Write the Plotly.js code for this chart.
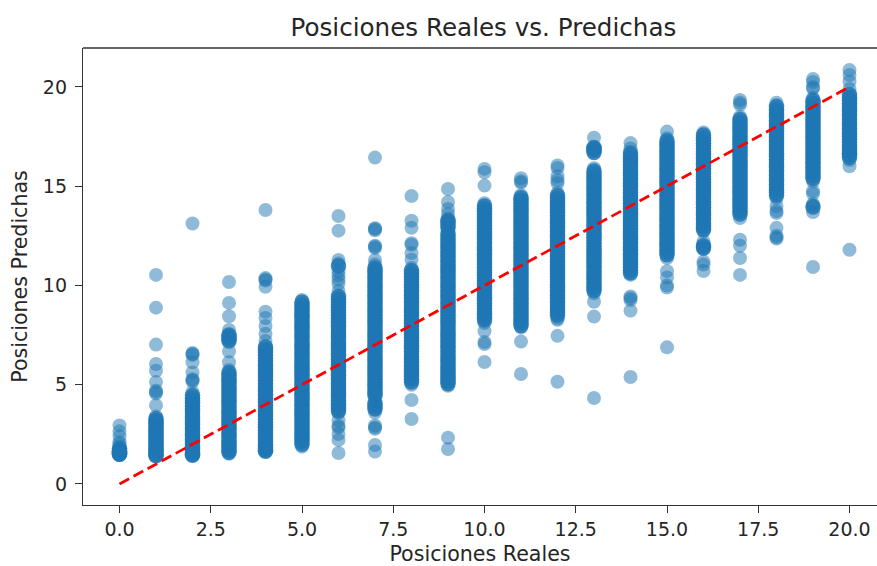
<!DOCTYPE html>
<html>
<head>
<meta charset="utf-8">
<script src="https://cdn.plot.ly/plotly-3.0.1.min.js"></script>
<style>html,body{margin:0;padding:0;background:#fff;overflow:hidden}</style>
</head>
<body>
<div id="chart" style="width:877px;height:566px"></div>
<script>
const chartTitle = "Posiciones Reales vs. Predichas";
const xAxisLabel = "Posiciones Reales";
const yAxisLabel = "Posiciones Predichas";
const xTickValues = [0, 2.5, 5, 7.5, 10, 12.5, 15, 17.5, 20];
const xTickLabels = ["0.0", "2.5", "5.0", "7.5", "10.0", "12.5", "15.0", "17.5", "20.0"];
const yTickValues = [0, 5, 10, 15, 20];
const lineX = [0, 20];
const lineY = [0, 20];

const pos0 = [2.95,2.65,2.4,2.1,2.0,1.8,1.7,1.65,1.6,1.6,1.55,1.5,1.5];
const pos1 = [10.53,8.88,7.02,6.04,5.7,5.14,4.7,4.63,4.56,3.96,3.4,3.28,3.17,3.05,2.93,2.82,2.7,2.6,2.48,2.37,2.26,2.15,2.04,1.93,1.83,1.73,1.63,1.55,1.47,1.42];
const pos2 = [13.12,6.6,6.55,6.5,6.13,5.62,5.28,5.22,5.16,4.62,4.45,4.32,4.18,4.05,3.92,3.78,3.65,3.52,3.38,3.25,3.12,3.0,2.87,2.74,2.62,2.5,2.38,2.26,2.14,2.02,1.9,1.78,1.67,1.56,1.48,1.44];
const pos3 = [10.17,9.12,8.45,7.76,7.5,7.42,7.3,7.2,6.67,6.13,5.74,5.6,5.46,5.33,5.2,5.06,4.92,4.78,4.65,4.5,4.37,4.23,4.1,3.96,3.82,3.68,3.55,3.42,3.28,3.14,3.0,2.87,2.74,2.6,2.47,2.34,2.2,2.07,1.94,1.82,1.7,1.6,1.52];
const pos4 = [13.8,10.37,10.3,10.25,9.93,8.68,8.36,7.96,7.56,7.2,6.9,6.76,6.62,6.48,6.34,6.2,6.06,5.92,5.78,5.64,5.5,5.36,5.22,5.08,4.94,4.8,4.66,4.52,4.38,4.24,4.1,3.96,3.82,3.68,3.54,3.4,3.26,3.12,2.98,2.84,2.7,2.56,2.42,2.28,2.14,2.0,1.88,1.78,1.7,1.65];
const pos5 = [9.27,9.15,9.02,8.9,8.76,8.63,8.5,8.38,8.22,8.1,7.96,7.83,7.7,7.55,7.42,7.3,7.14,7.0,6.88,6.75,6.6,6.47,6.33,6.2,6.06,5.92,5.8,5.66,5.52,5.4,5.25,5.12,4.98,4.85,4.7,4.57,4.44,4.3,4.16,4.03,3.9,3.76,3.63,3.5,3.35,3.22,3.08,2.95,2.82,2.68,2.55,2.42,2.28,2.14,2.0,1.88];
const pos6 = [13.5,12.76,11.28,11.1,10.98,10.7,10.5,10.3,10.1,9.72,9.44,9.3,9.17,9.03,8.9,8.76,8.62,8.48,8.35,8.2,8.07,7.93,7.8,7.66,7.52,7.38,7.25,7.1,6.97,6.83,6.7,6.56,6.42,6.28,6.15,6.0,5.87,5.73,5.6,5.46,5.32,5.18,5.05,4.9,4.77,4.63,4.5,4.36,4.22,4.08,3.95,3.8,3.68,3.58,3.2,2.92,2.85,2.52,2.22,1.56];
const pos7 = [16.44,12.88,12.84,12.78,12.0,11.95,11.88,11.28,11.05,10.88,10.74,10.6,10.46,10.32,10.18,10.04,9.9,9.76,9.62,9.48,9.34,9.2,9.06,8.92,8.78,8.64,8.5,8.36,8.22,8.08,7.94,7.8,7.66,7.52,7.38,7.24,7.1,6.96,6.82,6.68,6.54,6.4,6.26,6.12,5.98,5.84,5.7,5.56,5.42,5.28,5.14,5.0,4.86,4.72,4.58,4.45,4.2,4.05,3.9,3.78,3.6,2.95,2.85,2.78,1.96,1.63];
const pos8 = [14.5,13.26,12.9,12.13,12.05,11.63,11.3,10.88,10.74,10.6,10.46,10.32,10.18,10.04,9.9,9.76,9.62,9.48,9.34,9.2,9.06,8.92,8.78,8.64,8.5,8.36,8.22,8.08,7.94,7.8,7.66,7.52,7.38,7.24,7.1,6.96,6.82,6.68,6.54,6.4,6.26,6.12,5.98,5.84,5.7,5.56,5.42,5.28,5.14,5.0,4.23,3.27];
const pos9 = [14.86,14.2,13.85,13.6,13.3,13.2,13.05,12.9,12.75,12.6,12.45,12.3,12.15,12.0,11.86,11.72,11.58,11.44,11.3,11.16,11.02,10.88,10.74,10.6,10.46,10.32,10.18,10.04,9.9,9.76,9.62,9.48,9.34,9.2,9.06,8.92,8.78,8.64,8.5,8.36,8.22,8.08,7.94,7.8,7.66,7.52,7.38,7.24,7.1,6.96,6.82,6.68,6.54,6.4,6.26,6.12,5.98,5.84,5.7,5.56,5.42,5.3,5.16,5.05,4.95,2.33,1.76];
const pos10 = [15.87,15.7,15.03,14.14,14.0,13.86,13.72,13.58,13.44,13.3,13.16,13.02,12.88,12.74,12.6,12.46,12.32,12.18,12.04,11.9,11.76,11.62,11.48,11.34,11.2,11.06,10.92,10.78,10.64,10.5,10.36,10.22,10.08,9.94,9.8,9.66,9.52,9.38,9.24,9.1,8.96,8.82,8.68,8.54,8.4,8.26,8.1,7.7,7.15,7.05,6.14];
const pos11 = [15.4,15.25,15.18,14.56,14.42,14.28,14.14,14.0,13.86,13.72,13.58,13.44,13.3,13.16,13.02,12.88,12.74,12.6,12.46,12.32,12.18,12.04,11.9,11.76,11.62,11.48,11.34,11.2,11.06,10.92,10.78,10.64,10.5,10.36,10.22,10.08,9.94,9.8,9.66,9.52,9.38,9.24,9.1,8.96,8.82,8.68,8.54,8.4,8.26,8.12,7.98,7.88,7.17,5.54];
const pos12 = [16.04,15.92,15.5,15.3,15.15,14.66,14.52,14.38,14.24,14.1,13.96,13.82,13.68,13.54,13.4,13.26,13.12,12.98,12.84,12.7,12.56,12.42,12.28,12.14,12.0,11.86,11.72,11.58,11.44,11.3,11.16,11.02,10.88,10.74,10.6,10.46,10.32,10.18,10.04,9.9,9.76,9.62,9.48,9.34,9.2,9.06,8.92,8.78,8.64,8.5,8.33,8.27,7.46,5.15];
const pos13 = [17.44,16.95,16.88,16.8,16.7,15.9,15.76,15.62,15.48,15.34,15.2,15.06,14.92,14.78,14.64,14.5,14.36,14.22,14.08,13.94,13.8,13.66,13.52,13.38,13.24,13.1,12.96,12.82,12.68,12.54,12.4,12.26,12.12,11.98,11.84,11.7,11.56,11.42,11.28,11.14,11.0,10.86,10.72,10.58,10.44,10.3,10.16,10.02,9.88,9.74,9.6,9.18,8.43,4.33];
const pos14 = [17.17,16.9,16.67,16.52,16.38,16.24,16.1,15.96,15.82,15.68,15.54,15.4,15.26,15.12,14.98,14.84,14.7,14.56,14.42,14.28,14.14,14.0,13.86,13.72,13.58,13.44,13.3,13.16,13.02,12.88,12.74,12.6,12.46,12.32,12.18,12.04,11.9,11.76,11.62,11.48,11.34,11.2,11.06,10.92,10.78,10.64,10.53,9.44,9.36,9.27,8.73,5.39];
const pos15 = [17.75,17.42,17.28,17.14,17.0,16.86,16.72,16.58,16.44,16.3,16.16,16.02,15.88,15.74,15.6,15.46,15.32,15.18,15.04,14.9,14.76,14.62,14.48,14.34,14.2,14.06,13.92,13.78,13.64,13.5,13.36,13.22,13.08,12.94,12.8,12.66,12.52,12.38,12.24,12.1,11.96,11.82,11.68,11.54,11.38,10.72,10.4,10.0,9.89,6.88];
const pos16 = [17.7,17.58,17.44,17.3,17.16,17.02,16.88,16.74,16.6,16.46,16.32,16.18,16.04,15.9,15.76,15.62,15.48,15.34,15.2,15.06,14.92,14.78,14.64,14.5,14.36,14.22,14.08,13.94,13.8,13.66,13.52,13.38,13.24,13.1,12.96,12.82,12.71,12.2,12.0,11.9,11.82,11.2,11.05,10.73];
const pos17 = [19.34,19.2,19.1,18.5,18.36,18.22,18.08,17.94,17.8,17.66,17.52,17.38,17.24,17.1,16.96,16.82,16.68,16.54,16.4,16.26,16.12,15.98,15.84,15.7,15.56,15.42,15.28,15.14,15.0,14.86,14.72,14.58,14.44,14.3,14.16,14.02,13.88,13.74,13.6,13.4,12.3,12.0,11.38,10.53];
const pos18 = [19.2,19.02,18.88,18.74,18.6,18.46,18.32,18.18,18.04,17.9,17.76,17.62,17.48,17.34,17.2,17.06,16.92,16.78,16.64,16.5,16.36,16.22,16.08,15.94,15.8,15.66,15.52,15.38,15.24,15.1,14.96,14.82,14.68,14.54,14.4,14.0,13.75,13.65,12.9,12.5,12.42,12.36];
const pos19 = [20.4,20.25,19.98,19.92,19.45,19.31,19.17,19.03,18.89,18.75,18.61,18.47,18.33,18.19,18.05,17.91,17.77,17.63,17.49,17.35,17.21,17.07,16.93,16.79,16.65,16.51,16.37,16.23,16.09,15.95,15.81,15.67,15.53,15.39,15.25,14.75,14.62,14.1,14.02,13.95,13.7,10.93];
const pos20 = [20.85,20.6,20.27,19.9,19.6,19.46,19.32,19.18,19.04,18.9,18.76,18.62,18.48,18.34,18.2,18.06,17.92,17.78,17.64,17.5,17.36,17.22,17.08,16.94,16.8,16.66,16.6,16.45,16.32,16.0,11.8];
const positionColumns = [pos0,pos1,pos2,pos3,pos4,pos5,pos6,pos7,pos8,pos9,pos10,pos11,pos12,pos13,pos14,pos15,pos16,pos17,pos18,pos19,pos20];

// Points inside a heavily overplotted band render as a solid core; isolated points stay translucent.
const sparseX = [], sparseY = [], bandX = [], bandY = [];
positionColumns.forEach(function (col, real) {
  col.forEach(function (v) {
    const near = col.filter(function (o) { return Math.abs(o - v) <= 0.3; }).length;
    if (near >= 4) { bandX.push(real); bandY.push(v); }
    else { sparseX.push(real); sparseY.push(v); }
  });
});

const family = '"DejaVu Sans", sans-serif';
const ink = '#262626';
const axisBase = {
  showgrid: false, zeroline: false, showline: true, linecolor: '#333', linewidth: 1.4,
  ticks: 'outside', ticklen: 7, tickwidth: 1.4, tickcolor: '#333', mirror: false,
  tickfont: {family: family, size: 19, color: ink}
};
Plotly.newPlot('chart', [
  {type: 'scatter', mode: 'markers', x: sparseX, y: sparseY,
   marker: {color: '#1f77b4', size: 14, opacity: 0.5, line: {width: 0}}, hoverinfo: 'skip'},
  {type: 'scatter', mode: 'markers', x: bandX, y: bandY,
   marker: {color: '#1f77b4', size: 15.5, opacity: 0.85, line: {width: 0}}, hoverinfo: 'skip'},
  {type: 'scatter', mode: 'lines', x: lineX, y: lineY,
   line: {color: '#ff0000', width: 2.8, dash: '11px,5px'}, hoverinfo: 'skip'}
], {
  width: 877, height: 566, showlegend: false,
  paper_bgcolor: '#fff', plot_bgcolor: '#fff', font: {family: family, size: 19, color: ink},
  margin: {l: 83, r: 0, t: 48, b: 61, pad: 0},
  title: {text: chartTitle, font: {family: family, size: 24.6, color: ink},
          x: 0.5043, xref: 'paper', xanchor: 'center', y: 0.952, yref: 'container', yanchor: 'middle'},
  xaxis: Object.assign({}, axisBase, {
    range: [-1, 20.753], tickmode: 'array', tickvals: xTickValues, ticktext: xTickLabels,
    title: {text: xAxisLabel, font: {family: family, size: 20.6, color: ink}, standoff: 12}
  }),
  yaxis: Object.assign({}, axisBase, {
    range: [-1.06, 21.96], tickmode: 'array', tickvals: yTickValues, ticktext: yTickValues.map(String),
    ticklabelstandoff: 4,
    title: {text: yAxisLabel, font: {family: family, size: 20.6, color: ink}, standoff: 9}
  }),
  shapes: [{type: 'line', xref: 'paper', yref: 'paper', x0: 0, x1: 1, y0: 1, y1: 1,
            line: {color: '#333', width: 1.4}}]
}, {displayModeBar: false, responsive: false});
</script>
</body>
</html>
